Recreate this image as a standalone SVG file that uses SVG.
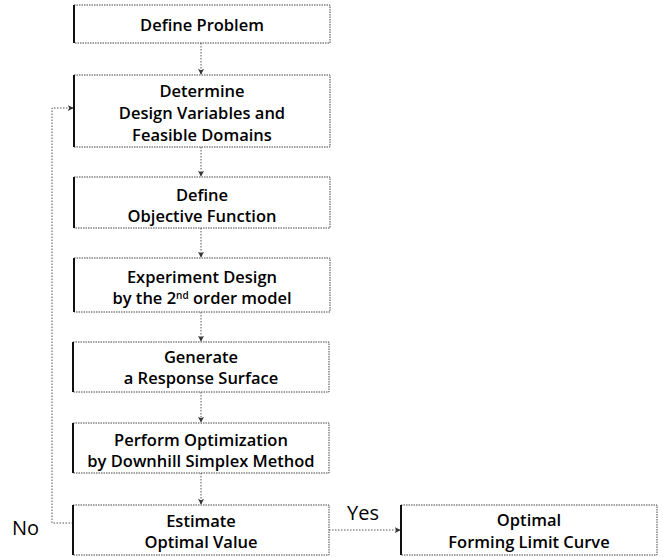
<svg xmlns="http://www.w3.org/2000/svg" width="663" height="557" viewBox="0 0 663 557">
<style>
.box{fill:#fff;stroke:#444;stroke-width:1;stroke-dasharray:1.5 1}
.edge{stroke:#111;stroke-width:2}
.t{font-family:"Open Sans","Noto Sans",sans-serif;font-size:16.5px;font-weight:600;fill:#000;text-anchor:middle}
.lbl{font-family:"Open Sans","Noto Sans",sans-serif;font-size:20px;fill:#000}
.c{fill:none;stroke:#555;stroke-width:1;stroke-dasharray:1.5 1.5}
</style>
<defs>
<marker id="ah" viewBox="0 0 8 8" refX="7" refY="4" markerWidth="6" markerHeight="6" orient="auto" markerUnits="userSpaceOnUse">
<path d="M0,0 L8,4 L0,8 L2,4 Z" fill="#333"/>
</marker>
</defs>
<rect width="663" height="557" fill="#fff"/>
<g id="connectors">
<line class="c" x1="201" y1="43" x2="201" y2="74" marker-end="url(#ah)"/>
<line class="c" x1="201" y1="147" x2="201" y2="176" marker-end="url(#ah)"/>
<line class="c" x1="201" y1="228" x2="201" y2="257" marker-end="url(#ah)"/>
<line class="c" x1="201" y1="312" x2="201" y2="341" marker-end="url(#ah)"/>
<line class="c" x1="201" y1="392" x2="201" y2="422" marker-end="url(#ah)"/>
<line class="c" x1="201" y1="473" x2="201" y2="504" marker-end="url(#ah)"/>
<polyline class="c" points="73,523 52,523 52,108 73,108" marker-end="url(#ah)"/>
<line class="c" x1="329" y1="530" x2="400" y2="530" marker-end="url(#ah)"/>
<text class="lbl" x="12" y="535" font-size="21">No</text>
<text class="lbl" x="347" y="520">Yes</text>
</g>
<g id="n1">
<rect class="box" x="74" y="5" width="256" height="38"/>
<line class="edge" x1="74" y1="5" x2="74" y2="43"/>
<text class="t" x="202" y="31">Define Problem</text>
</g>
<g id="n2">
<rect class="box" x="74" y="75" width="256" height="72"/>
<line class="edge" x1="74" y1="75" x2="74" y2="147"/>
<text class="t" x="202" y="97">Determine</text>
<text class="t" x="202" y="119">Design Variables and</text>
<text class="t" x="202" y="141">Feasible Domains</text>
</g>
<g id="n3">
<rect class="box" x="74" y="177" width="256" height="51"/>
<line class="edge" x1="74" y1="177" x2="74" y2="228"/>
<text class="t" x="202" y="201">Define</text>
<text class="t" x="202" y="222">Objective Function</text>
</g>
<g id="n4">
<rect class="box" x="74" y="258" width="256" height="54"/>
<line class="edge" x1="74" y1="258" x2="74" y2="312"/>
<text class="t" x="202" y="283">Experiment Design</text>
<text class="t" x="202" y="304">by the 2<tspan font-size="10" dy="-5">nd</tspan><tspan dy="5"> order model</tspan></text>
</g>
<g id="n5">
<rect class="box" x="73" y="342" width="256" height="50"/>
<line class="edge" x1="73" y1="342" x2="73" y2="392"/>
<text class="t" x="201" y="363">Generate</text>
<text class="t" x="201" y="384">a Response Surface</text>
</g>
<g id="n6">
<rect class="box" x="73" y="423" width="256" height="50"/>
<line class="edge" x1="73" y1="423" x2="73" y2="473"/>
<text class="t" x="201" y="446">Perform Optimization</text>
<text class="t" x="201" y="467">by Downhill Simplex Method</text>
</g>
<g id="n7">
<rect class="box" x="73" y="505" width="256" height="50"/>
<line class="edge" x1="73" y1="505" x2="73" y2="555"/>
<text class="t" x="201" y="527">Estimate</text>
<text class="t" x="201" y="548">Optimal Value</text>
</g>
<g id="n8">
<rect class="box" x="401" y="505" width="256" height="50"/>
<line class="edge" x1="401" y1="505" x2="401" y2="555"/>
<text class="t" x="529" y="526">Optimal</text>
<text class="t" x="529" y="548">Forming Limit Curve</text>
</g>
</svg>
